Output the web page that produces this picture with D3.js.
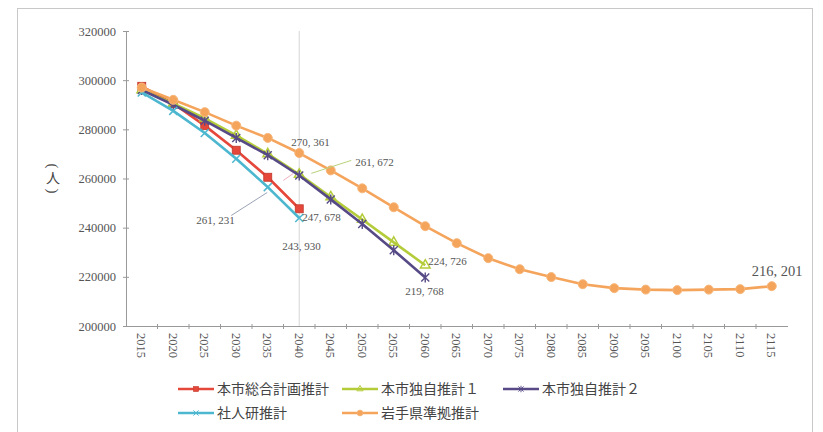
<!DOCTYPE html>
<html>
<head>
<meta charset="utf-8">
<script src="https://cdn.jsdelivr.net/npm/d3@7"></script>
<style>
  body { margin: 0; background: #fff; }
  svg { display: block; }
</style>
</head>
<body>
<svg></svg>
<script>
// 人口推計グラフ
const width = 823;
const height = 432;

const years = ["2015", "2020", "2025", "2030", "2035", "2040", "2045", "2050", "2055", "2060", "2065",
  "2070", "2075", "2080", "2085", "2090", "2095", "2100", "2105", "2110", "2115"];
const yTicks = [200000, 220000, 240000, 260000, 280000, 300000, 320000];

const sougou = [297500, 290500, 281500, 271500, 260500, 247678];
const dokuji1 = [296000, 290500, 284500, 277500, 270000, 261672, 252500, 243300, 234000, 224726];
const dokuji2 = [296000, 290000, 283500, 276500, 269500, 261231, 251500, 241500, 230800, 219768];
const shajinken = [295000, 287500, 278500, 268000, 256500, 243930];
const iwate = [297000, 292000, 287000, 281500, 276500, 270361, 263300, 256000, 248300, 240600, 233700,
  227600, 223100, 219900, 217000, 215400, 214800, 214600, 214800, 215000, 216201];

const seriesNames = ["本市総合計画推計", "本市独自推計１", "本市独自推計２", "社人研推計", "岩手県準拠推計"];
const seriesValues = [sougou, dokuji1, dokuji2, shajinken, iwate];
const colors = ["#e5473b", "#b4cc3a", "#574a86", "#4cb7cf", "#f5a45c"];
const markers = ["square", "triangle", "star", "cross", "circle"];

// ラベル: [系列, 年のindex, dx, dy, 文字]
const notes = [
  [4, 5, -8, -11, "270, 361"],
  [1, 5, 56, -12, "261, 672"],
  [2, 5, -103, 45, "261, 231"],
  [0, 5, 3, 8, "247, 678"],
  [3, 5, -17, 28, "243, 930"],
  [1, 9, 3, -4, "224, 726"],
  [2, 9, -20, 14, "219, 768"]
];

const svg = d3.select("svg").attr("width", width).attr("height", height);

// 外枠
svg.append("rect")
  .attr("x", 17.5).attr("y", 8.5)
  .attr("width", 795).attr("height", 440)
  .attr("fill", "none").attr("stroke", "#c8c8c8");

const xScale = d3.scaleBand().domain(years).range([126, 787.5]);
const xPos = (i) => xScale(years[i]) + xScale.bandwidth() / 2;
const yScale = d3.scaleLinear().domain([200000, 320000]).range([326, 31]);

// 2040年の縦線
svg.append("line")
  .attr("x1", xPos(5)).attr("x2", xPos(5))
  .attr("y1", yScale(320000)).attr("y2", yScale(200000))
  .attr("stroke", "#ddd").attr("stroke-width", 1.2);

const serif = "'Liberation Serif', 'DejaVu Serif', serif";

const yAxis = d3.axisLeft(yScale).tickValues(yTicks).tickFormat(d3.format("d")).tickSize(4).tickSizeOuter(0);
const gy = svg.append("g").attr("transform", "translate(126,0)").call(yAxis);
gy.selectAll("path, line").attr("stroke", "#999");
gy.selectAll("line").attr("x2", 3).attr("x1", -3);
gy.selectAll("text").attr("x", -10).attr("fill", "#555")
  .style("font-family", serif).style("font-size", "12.5px");

const xAxis = d3.axisBottom(xScale).tickSize(0).tickSizeOuter(0);
const gx = svg.append("g").attr("transform", "translate(0,326)").call(xAxis);
gx.select("path").attr("stroke", "#999");
gx.selectAll("text")
  .attr("transform", "rotate(90)")
  .attr("x", 7).attr("y", 0).attr("dy", "0.35em")
  .style("text-anchor", "start")
  .attr("fill", "#555")
  .style("font-family", serif).style("font-size", "12.5px");
// 目盛り（カテゴリ境界）
gx.selectAll(".sep").data(years.slice(1)).enter().append("line")
  .attr("x1", (d) => xScale(d)).attr("x2", (d) => xScale(d))
  .attr("y1", -2).attr("y2", 3)
  .attr("stroke", "#999");

// 縦軸タイトル（縦書き）
const yTitle = svg.append("g").attr("fill", "#444");
yTitle.append("text").attr("transform", "translate(53,166) rotate(90)")
  .attr("dy", "0.35em").style("text-anchor", "middle")
  .style("font-family", serif).style("font-size", "15px").text("(");
yTitle.append("text").attr("x", 53).attr("y", 178).attr("dy", "0.35em")
  .style("text-anchor", "middle")
  .style("font-family", "'Noto Sans CJK JP'").style("font-size", "14px").text("人");
yTitle.append("text").attr("transform", "translate(53,191) rotate(90)")
  .attr("dy", "0.35em").style("text-anchor", "middle")
  .style("font-family", serif).style("font-size", "15px").text(")");

function drawMarker(g, type, color, x, y, k) {
  k = k || 1;
  const t = "translate(" + x + "," + y + ") scale(" + k + ")";
  if (type === "square") {
    g.append("rect").attr("x", -4).attr("y", -4).attr("width", 8).attr("height", 8)
      .attr("transform", t)
      .attr("fill", color).attr("stroke", "#c0392b").attr("stroke-width", 0.8);
  } else if (type === "triangle") {
    g.append("path").attr("d", d3.symbol(d3.symbolTriangle, 40)())
      .attr("transform", t)
      .attr("fill", "none").attr("stroke", color).attr("stroke-width", 1.5);
  } else if (type === "star") {
    g.append("path").attr("d", "M-4,-4L4,4M-4,4L4,-4M0,-5L0,5")
      .attr("transform", t)
      .attr("stroke", color).attr("stroke-width", 1.4);
  } else if (type === "cross") {
    g.append("path").attr("d", "M-4,-4L4,4M-4,4L4,-4")
      .attr("transform", t)
      .attr("stroke", color).attr("stroke-width", 1.5);
  } else {
    g.append("circle").attr("r", 4.5)
      .attr("transform", t)
      .attr("fill", color).attr("stroke", "#f7b77a").attr("stroke-width", 1);
  }
}

const line = d3.line().x((d, i) => xPos(i)).y((d) => yScale(d));

seriesValues.forEach(function (vals, s) {
  const g = svg.append("g");
  g.append("path")
    .attr("d", line(vals))
    .attr("fill", "none")
    .attr("stroke", colors[s])
    .attr("stroke-width", 2.6)
    .attr("stroke-linejoin", "round");
  vals.forEach(function (v, i) {
    drawMarker(g, markers[s], colors[s], xPos(i), yScale(v));
  });
});

// 引出線
svg.append("line")
  .attr("x1", xPos(5) + 52).attr("y1", yScale(261672) - 14)
  .attr("x2", xPos(5) + 12).attr("y2", yScale(261672) - 1)
  .attr("stroke", "#b9d27a").attr("stroke-width", 1);
svg.append("line")
  .attr("x1", xPos(5) - 68).attr("y1", yScale(261231) + 40)
  .attr("x2", xPos(5) - 32).attr("y2", yScale(261231) + 17)
  .attr("stroke", "#9aa3b5").attr("stroke-width", 1);
svg.append("line")
  .attr("x1", xPos(5) - 16).attr("y1", yScale(261231) + 5)
  .attr("x2", xPos(5) - 6).attr("y2", yScale(261231) - 2)
  .attr("stroke", "#f0b0c0").attr("stroke-width", 1);

notes.forEach(function (n) {
  const v = seriesValues[n[0]][n[1]];
  svg.append("text")
    .attr("x", xPos(n[1]) + n[2])
    .attr("y", yScale(v) + n[3])
    .attr("dy", "0.35em")
    .attr("fill", "#555")
    .style("font-family", serif)
    .style("font-size", "11px")
    .text(n[4]);
});

svg.append("text")
  .attr("x", xPos(20) - 20).attr("y", yScale(216201) - 15)
  .attr("dy", "0.35em")
  .attr("fill", "#555")
  .style("font-family", serif)
  .style("font-size", "14.5px")
  .text("216, 201");

// 凡例
const legendPos = [[178, 389], [342, 389], [503, 389], [178, 413], [342, 413]];
seriesNames.forEach(function (name, s) {
  const g = svg.append("g").attr("transform", "translate(" + legendPos[s][0] + "," + legendPos[s][1] + ")");
  g.append("line").attr("x1", 0).attr("x2", 36).attr("y1", 0).attr("y2", 0)
    .attr("stroke", colors[s]).attr("stroke-width", 2.4);
  drawMarker(g, markers[s], colors[s], 18, 0, 0.65);
  g.append("text")
    .attr("x", 39).attr("y", 0).attr("dy", "0.35em")
    .attr("fill", "#444")
    .style("font-family", "'Noto Sans CJK JP'")
    .style("font-size", "14px")
    .text(name);
});
</script>
</body>
</html>
